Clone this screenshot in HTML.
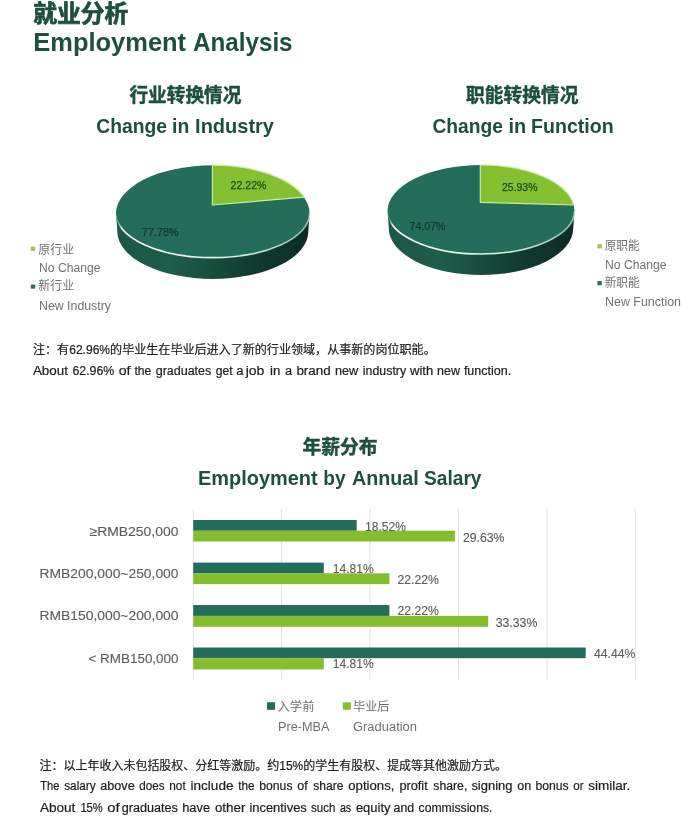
<!DOCTYPE html>
<html lang="zh">
<head>
<meta charset="utf-8">
<title>Employment Analysis</title>
<style>
html,body{margin:0;padding:0;background:#fff;}
body{width:696px;height:826px;overflow:hidden;position:relative;}
svg{position:absolute;left:0;top:0;display:block;}
text{font-family:"Liberation Sans","Noto Sans CJK SC",sans-serif;}
.h{fill:#1c4f3e;font-weight:bold;}
.c{stroke:#1c4f3e;stroke-width:0.45;}
.g{fill:#707070;}
.k{fill:#1c1c1c;stroke:#1c1c1c;stroke-width:0.2;}
.p{fill:#1b4a16;stroke:#1b4a16;stroke-width:0.25;}
.q{fill:#14382e;stroke:#14382e;stroke-width:0.25;}
.b{fill:#5c5c5c;stroke:#5c5c5c;stroke-width:0.12;}
</style>
</head>
<body>
<svg width="696" height="826" viewBox="0 0 696 826">
<defs>
<linearGradient id="sideD" x1="0" y1="0" x2="1" y2="0">
<stop offset="0" stop-color="#1b5745"/>
<stop offset="0.28" stop-color="#1e5d4a"/>
<stop offset="0.5" stop-color="#184d3d"/>
<stop offset="0.72" stop-color="#113a30"/>
<stop offset="1" stop-color="#0c2b24"/>
</linearGradient>
<linearGradient id="hl" x1="0" y1="0" x2="1" y2="0">
<stop offset="0" stop-color="#ffffff" stop-opacity="0"/>
<stop offset="0.012" stop-color="#ffffff" stop-opacity="0.2"/>
<stop offset="0.03" stop-color="#ffffff" stop-opacity="0.95"/>
<stop offset="0.6" stop-color="#e8fff0" stop-opacity="0.9"/>
<stop offset="1" stop-color="#c8f0d8" stop-opacity="0.6"/>
</linearGradient>
</defs>
<rect width="696" height="826" fill="#fff"/>
<!-- titles -->
<text class="h c" style="stroke-width:0.7" x="33.2" y="22.4" font-size="23.5" textLength="95" lengthAdjust="spacingAndGlyphs">就业分析</text>
<text class="h" y="50.8" font-size="25" lengthAdjust="spacingAndGlyphs"><tspan x="33.3" textLength="152.8" lengthAdjust="spacingAndGlyphs">Employment</tspan> <tspan x="193.0" textLength="99.6" lengthAdjust="spacingAndGlyphs">Analysis</tspan></text>

<text class="h c" x="129.4" y="101.7" font-size="19" textLength="112" lengthAdjust="spacingAndGlyphs">行业转换情况</text>
<text class="h" y="132.7" font-size="20.5" lengthAdjust="spacingAndGlyphs"><tspan x="96.2" textLength="70.8" lengthAdjust="spacingAndGlyphs">Change</tspan> <tspan x="172.1" textLength="17.2" lengthAdjust="spacingAndGlyphs">in</tspan> <tspan x="195.1" textLength="78.9" lengthAdjust="spacingAndGlyphs">Industry</tspan></text>
<text class="h c" x="466" y="101.7" font-size="19" textLength="112.4" lengthAdjust="spacingAndGlyphs">职能转换情况</text>
<text class="h" y="132.7" font-size="20.5" lengthAdjust="spacingAndGlyphs"><tspan x="432.4" textLength="70.5" lengthAdjust="spacingAndGlyphs">Change</tspan> <tspan x="508.5" textLength="17.7" lengthAdjust="spacingAndGlyphs">in</tspan> <tspan x="531.1" textLength="82.6" lengthAdjust="spacingAndGlyphs">Function</tspan></text>

<!-- pie 1 -->
<g id="pie1">
<path d="M116,213.5 A96.8,44.2 0 0 0 309.6,213.5 L308.3,231.5 A95.5,47.5 0 0 1 117.3,231.5 Z" fill="url(#sideD)"/>
<path d="M116,213.5 A96.8,48.3 0 0 1 309.6,213.5 A96.8,44.2 0 0 1 116,213.5 Z" fill="#246d5b"/>
<path d="M116,213.5 A96.8,44.2 0 0 0 309.6,213.5" fill="none" stroke="url(#hl)" stroke-width="1.7"/>
<path d="M212.4,205 L212.4,165.2 A96.8,48.3 0 0 1 304.4,197.2 Z" fill="#86c030" stroke="#c6f0a0" stroke-width="1.2" stroke-linejoin="round"/>
<text class="p" x="230.5" y="189" font-size="11.5" textLength="36" lengthAdjust="spacingAndGlyphs">22.22%</text>
<text class="q" x="142" y="236" font-size="11.5" textLength="36.5" lengthAdjust="spacingAndGlyphs">77.78%</text>
</g>
<!-- pie 2 -->
<g id="pie2">
<path d="M387.5,211 A93.5,43 0 0 0 574.5,211 L573.2,228.5 A92.2,46.5 0 0 1 388.8,228.5 Z" fill="url(#sideD)"/>
<path d="M387.5,211 A93.5,46 0 0 1 574.5,211 A93.5,43 0 0 1 387.5,211 Z" fill="#246d5b"/>
<path d="M387.5,211 A93.5,43 0 0 0 574.5,211" fill="none" stroke="url(#hl)" stroke-width="1.7"/>
<path d="M480.3,202.4 L480.3,165 A93.5,46 0 0 1 573.6,205 Z" fill="#86c030" stroke="#c6f0a0" stroke-width="1.2" stroke-linejoin="round"/>
<text class="p" x="502" y="191.2" font-size="11.5" textLength="35.5" lengthAdjust="spacingAndGlyphs">25.93%</text>
<text class="q" x="409.5" y="230.3" font-size="11.5" textLength="36" lengthAdjust="spacingAndGlyphs">74.07%</text>
</g>
<!-- legends -->
<rect x="30.8" y="246.7" width="4.4" height="4.2" fill="#9fbf5f"/>
<text class="g" x="38.3" y="253.5" font-size="12" textLength="35.8" lengthAdjust="spacingAndGlyphs">原行业</text>
<text class="g" x="39" y="272" font-size="12" textLength="61.5" lengthAdjust="spacingAndGlyphs">No Change</text>
<rect x="30.8" y="284.5" width="4.4" height="4.2" fill="#3d6b5c"/>
<text class="g" x="38.3" y="290.3" font-size="12" textLength="35.8" lengthAdjust="spacingAndGlyphs">新行业</text>
<text class="g" x="39" y="310" font-size="12" textLength="72" lengthAdjust="spacingAndGlyphs">New Industry</text>

<rect x="597.4" y="244.2" width="4.4" height="4.2" fill="#9fbf5f"/>
<text class="g" x="604.7" y="250.4" font-size="12" textLength="35" lengthAdjust="spacingAndGlyphs">原职能</text>
<text class="g" x="605" y="269.1" font-size="12" textLength="61.5" lengthAdjust="spacingAndGlyphs">No Change</text>
<rect x="597.4" y="281" width="4.4" height="4.2" fill="#3d6b5c"/>
<text class="g" x="604.7" y="287.2" font-size="12" textLength="35" lengthAdjust="spacingAndGlyphs">新职能</text>
<text class="g" x="605" y="305.8" font-size="12" textLength="76" lengthAdjust="spacingAndGlyphs">New Function</text>

<!-- notes -->
<text class="k" x="33" y="354" font-size="12" textLength="402.7" lengthAdjust="spacingAndGlyphs">注：有62.96%的毕业生在毕业后进入了新的行业领域，从事新的岗位职能。</text>
<text class="k" y="375" font-size="12.5" lengthAdjust="spacingAndGlyphs"><tspan x="32.9" textLength="35.1" lengthAdjust="spacingAndGlyphs">About</tspan> <tspan x="72.4" textLength="41.9" lengthAdjust="spacingAndGlyphs">62.96%</tspan> <tspan x="118.7" textLength="11.8" lengthAdjust="spacingAndGlyphs">of</tspan> <tspan x="134.4" textLength="16.9" lengthAdjust="spacingAndGlyphs">the</tspan> <tspan x="155.7" textLength="55.6" lengthAdjust="spacingAndGlyphs">graduates</tspan> <tspan x="215.7" textLength="16.9" lengthAdjust="spacingAndGlyphs">get</tspan> <tspan x="236.2" textLength="7.3" lengthAdjust="spacingAndGlyphs">a</tspan> <tspan x="245.7" textLength="18.6" lengthAdjust="spacingAndGlyphs">job</tspan> <tspan x="270.1" textLength="10.3" lengthAdjust="spacingAndGlyphs">in</tspan> <tspan x="285.1" textLength="7.1" lengthAdjust="spacingAndGlyphs">a</tspan> <tspan x="296.4" textLength="34.4" lengthAdjust="spacingAndGlyphs">brand</tspan> <tspan x="335.0" textLength="23.2" lengthAdjust="spacingAndGlyphs">new</tspan> <tspan x="362.8" textLength="43.4" lengthAdjust="spacingAndGlyphs">industry</tspan> <tspan x="410.0" textLength="23.3" lengthAdjust="spacingAndGlyphs">with</tspan> <tspan x="437.1" textLength="22.9" lengthAdjust="spacingAndGlyphs">new</tspan> <tspan x="463.9" textLength="47.3" lengthAdjust="spacingAndGlyphs">function.</tspan></text>

<!-- bar chart titles -->
<text class="h c" x="302.4" y="454" font-size="19" textLength="75.2" lengthAdjust="spacingAndGlyphs">年薪分布</text>
<text class="h" y="485" font-size="20.5" lengthAdjust="spacingAndGlyphs"><tspan x="198.1" textLength="119.5" lengthAdjust="spacingAndGlyphs">Employment</tspan> <tspan x="323.2" textLength="22.4" lengthAdjust="spacingAndGlyphs">by</tspan> <tspan x="352.0" textLength="66.8" lengthAdjust="spacingAndGlyphs">Annual</tspan> <tspan x="424.0" textLength="57.5" lengthAdjust="spacingAndGlyphs">Salary</tspan></text>

<!-- gridlines -->
<g stroke="#e2e2e2" stroke-width="1">
<line x1="193.2" y1="509" x2="193.2" y2="679.5"/>
<line x1="281.6" y1="509" x2="281.6" y2="679.5"/>
<line x1="370" y1="509" x2="370" y2="679.5"/>
<line x1="458.5" y1="509" x2="458.5" y2="679.5"/>
<line x1="546.9" y1="509" x2="546.9" y2="679.5"/>
<line x1="635.3" y1="509" x2="635.3" y2="679.5"/>
</g>
<!-- bars -->
<g fill="#246c5c">
<rect x="193.2" y="520" width="163.5" height="10.8"/>
<rect x="193.2" y="562.6" width="130.6" height="10.8"/>
<rect x="193.2" y="605" width="196.2" height="10.9"/>
<rect x="193.2" y="647.5" width="392.5" height="10.7"/>
</g>
<g fill="#84be2e">
<rect x="193.2" y="530.7" width="261.7" height="10.8"/>
<rect x="193.2" y="573.3" width="196.2" height="10.8"/>
<rect x="193.2" y="615.9" width="295" height="10.9"/>
<rect x="193.2" y="658.2" width="130.6" height="11.2"/>
</g>
<g class="b" font-size="13.4">
<text x="89.5" y="535.6" textLength="89" lengthAdjust="spacingAndGlyphs">≥RMB250,000</text>
<text x="39.5" y="577.9" textLength="139" lengthAdjust="spacingAndGlyphs">RMB200,000~250,000</text>
<text x="39.5" y="620" textLength="139" lengthAdjust="spacingAndGlyphs">RMB150,000~200,000</text>
<text x="88.5" y="662.7" textLength="90" lengthAdjust="spacingAndGlyphs">&lt; RMB150,000</text>
</g>
<g class="b" font-size="12.3">
<text x="365" y="530.7" textLength="41" lengthAdjust="spacingAndGlyphs">18.52%</text>
<text x="463" y="541.8" textLength="41.5" lengthAdjust="spacingAndGlyphs">29.63%</text>
<text x="332.8" y="572.9" textLength="41" lengthAdjust="spacingAndGlyphs">14.81%</text>
<text x="397.5" y="584" textLength="41.5" lengthAdjust="spacingAndGlyphs">22.22%</text>
<text x="397.5" y="615.2" textLength="41.5" lengthAdjust="spacingAndGlyphs">22.22%</text>
<text x="495.7" y="626.6" textLength="41.7" lengthAdjust="spacingAndGlyphs">33.33%</text>
<text x="594" y="657.8" textLength="41.5" lengthAdjust="spacingAndGlyphs">44.44%</text>
<text x="332.8" y="668.4" textLength="41" lengthAdjust="spacingAndGlyphs">14.81%</text>
</g>
<!-- legend -->
<rect x="267" y="702.3" width="8.1" height="7.5" fill="#226a55"/>
<text class="g" x="277.5" y="710.8" font-size="12" textLength="37" lengthAdjust="spacingAndGlyphs">入学前</text>
<rect x="342.8" y="702.3" width="8.1" height="7.5" fill="#86c030"/>
<text class="g" x="353" y="710.8" font-size="12" textLength="36.5" lengthAdjust="spacingAndGlyphs">毕业后</text>
<text class="g" x="278" y="731" font-size="12.3" textLength="51.5" lengthAdjust="spacingAndGlyphs">Pre-MBA</text>
<text class="g" x="353" y="731" font-size="12.3" textLength="64" lengthAdjust="spacingAndGlyphs">Graduation</text>

<!-- bottom notes -->
<text class="k" x="39.5" y="769.6" font-size="12" textLength="467.5" lengthAdjust="spacingAndGlyphs">注：以上年收入未包括股权、分红等激励。约15%的学生有股权、提成等其他激励方式。</text>
<text class="k" y="789.6" font-size="12.5" lengthAdjust="spacingAndGlyphs"><tspan x="40.3" textLength="19.2" lengthAdjust="spacingAndGlyphs">The</tspan> <tspan x="64.2" textLength="31.5" lengthAdjust="spacingAndGlyphs">salary</tspan> <tspan x="100.3" textLength="34.4" lengthAdjust="spacingAndGlyphs">above</tspan> <tspan x="139.3" textLength="25.2" lengthAdjust="spacingAndGlyphs">does</tspan> <tspan x="169.3" textLength="16.4" lengthAdjust="spacingAndGlyphs">not</tspan> <tspan x="190.5" textLength="43.0" lengthAdjust="spacingAndGlyphs">include</tspan> <tspan x="238.2" textLength="16.3" lengthAdjust="spacingAndGlyphs">the</tspan> <tspan x="259.3" textLength="33.2" lengthAdjust="spacingAndGlyphs">bonus</tspan> <tspan x="297.3" textLength="10.4" lengthAdjust="spacingAndGlyphs">of</tspan> <tspan x="313.3" textLength="30.2" lengthAdjust="spacingAndGlyphs">share</tspan> <tspan x="348.2" textLength="46.3" lengthAdjust="spacingAndGlyphs">options,</tspan> <tspan x="399.4" textLength="28.3" lengthAdjust="spacingAndGlyphs">profit</tspan> <tspan x="433.3" textLength="34.0" lengthAdjust="spacingAndGlyphs">share,</tspan> <tspan x="471.4" textLength="41.1" lengthAdjust="spacingAndGlyphs">signing</tspan> <tspan x="517.2" textLength="14.1" lengthAdjust="spacingAndGlyphs">on</tspan> <tspan x="535.4" textLength="33.2" lengthAdjust="spacingAndGlyphs">bonus</tspan> <tspan x="573.3" textLength="10.3" lengthAdjust="spacingAndGlyphs">or</tspan> <tspan x="588.3" textLength="42.1" lengthAdjust="spacingAndGlyphs">similar.</tspan></text>
<text class="k" y="811.5" font-size="12.5" lengthAdjust="spacingAndGlyphs"><tspan x="39.9" textLength="35.4" lengthAdjust="spacingAndGlyphs">About</tspan> <tspan x="80.4" textLength="22.4" lengthAdjust="spacingAndGlyphs">15%</tspan> <tspan x="107.2" textLength="12.3" lengthAdjust="spacingAndGlyphs">of</tspan> <tspan x="121.7" textLength="56.1" lengthAdjust="spacingAndGlyphs">graduates</tspan> <tspan x="182.2" textLength="27.9" lengthAdjust="spacingAndGlyphs">have</tspan> <tspan x="214.9" textLength="30.6" lengthAdjust="spacingAndGlyphs">other</tspan> <tspan x="249.4" textLength="57.4" lengthAdjust="spacingAndGlyphs">incentives</tspan> <tspan x="311.1" textLength="24.4" lengthAdjust="spacingAndGlyphs">such</tspan> <tspan x="339.9" textLength="11.2" lengthAdjust="spacingAndGlyphs">as</tspan> <tspan x="355.9" textLength="34.6" lengthAdjust="spacingAndGlyphs">equity</tspan> <tspan x="393.6" textLength="20.6" lengthAdjust="spacingAndGlyphs">and</tspan> <tspan x="418.6" textLength="73.8" lengthAdjust="spacingAndGlyphs">commissions.</tspan></text>
</svg>
</body>
</html>
